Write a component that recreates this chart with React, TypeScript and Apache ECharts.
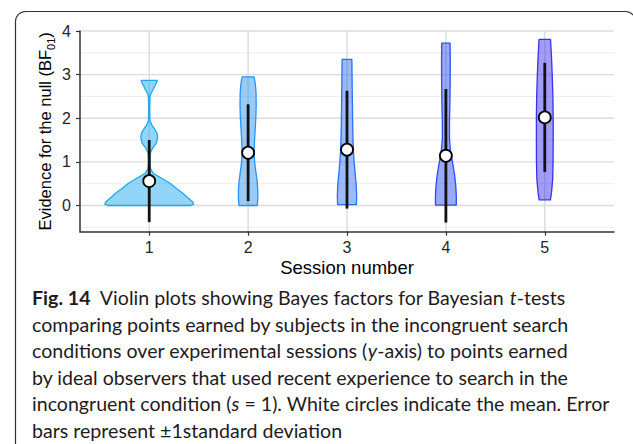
import React, { useEffect, useRef } from "react";
import * as echarts from "echarts";

// ---- data ----
const sessions = [1, 2, 3, 4, 5];
const sessionLabels = ["1", "2", "3", "4", "5"];
const means = [0.56, 1.21, 1.28, 1.14, 2.02];
const sds = [0.94, 1.11, 1.35, 1.53, 1.25];
const yTicks = [0, 1, 2, 3, 4];
const yTickLabels = ["0", "1", "2", "3", "4"];
const yMinorGrid = [-0.5, 0.5, 1.5, 2.5, 3.5];

// violin outlines: y values and half-widths (in x-axis units)
const violinY1 = [0.0, 0.03, 0.08, 0.18, 0.28, 0.4, 0.51, 0.62, 0.74, 0.85, 1.0, 1.2, 1.32, 1.42, 1.55, 1.65, 1.75, 1.85, 1.95, 2.2, 2.5, 2.58, 2.66, 2.75, 2.82, 2.87];
const violinW1 = [0.42, 0.45, 0.44, 0.39, 0.34, 0.27, 0.21, 0.13, 0.04, 0.012, 0.006, 0.01, 0.035, 0.07, 0.085, 0.08, 0.055, 0.025, 0.008, 0.005, 0.008, 0.02, 0.04, 0.058, 0.075, 0.08];
const violinY2 = [0.0, 0.15, 0.35, 0.55, 0.75, 0.95, 1.15, 1.4, 1.7, 2.0, 2.3, 2.6, 2.8, 2.95];
const violinW2 = [0.092, 0.098, 0.098, 0.092, 0.08, 0.068, 0.062, 0.063, 0.07, 0.078, 0.082, 0.08, 0.072, 0.06];
const violinY3 = [0.02, 0.2, 0.45, 0.7, 0.95, 1.2, 1.5, 1.9, 2.3, 2.8, 3.2, 3.35];
const violinW3 = [0.095, 0.098, 0.094, 0.084, 0.074, 0.066, 0.061, 0.057, 0.055, 0.052, 0.05, 0.049];
const violinY4 = [0.01, 0.2, 0.45, 0.7, 0.9, 1.1, 1.3, 1.55, 1.9, 2.3, 2.8, 3.3, 3.72];
const violinW4 = [0.105, 0.106, 0.1, 0.088, 0.074, 0.058, 0.044, 0.036, 0.036, 0.04, 0.043, 0.044, 0.042];
const violinY5 = [0.13, 0.3, 0.6, 1.0, 1.5, 2.0, 2.5, 3.0, 3.4, 3.81];
const violinW5 = [0.057, 0.068, 0.08, 0.084, 0.085, 0.085, 0.082, 0.075, 0.068, 0.058];

const violinStroke = ["#1ea8f0", "#2a92f2", "#2c6ff2", "#2c4cf1", "#3a32ee"];

const captionLines = [
  "{b|Fig. 14}{n|  Violin plots showing Bayes factors for Bayesian }{i|t}{n|-tests}",
  "{n|comparing points earned by subjects in the incongruent search}",
  "{n|conditions over experimental sessions (}{i|y}{n|-axis) to points earned}",
  "{n|by ideal observers that used recent experience to search in the}",
  "{n|incongruent condition (}{i|s}{n| = 1). White circles indicate the mean. Error}",
  "{n|bars represent ±1standard deviation}",
];

const AXIS_FONT = "Liberation Sans, Arial, sans-serif";
const CAP_FONT = "Lato, Open Sans, sans-serif";

export default function App() {
  const ref = useRef<HTMLDivElement>(null);

  useEffect(() => {
    if (!ref.current) return;
    const chart = echarts.init(ref.current, null, { renderer: "svg" });

    const violins = [
      { y: violinY1, w: violinW1 },
      { y: violinY2, w: violinW2 },
      { y: violinY3, w: violinW3 },
      { y: violinY4, w: violinW4 },
      { y: violinY5, w: violinW5 },
    ];

    const hLine = (color: string, width: number) => (params: any, api: any) => {
      const cs = params.coordSys;
      const y = api.coord([1, api.value(1)])[1];
      return {
        type: "line",
        shape: { x1: cs.x, y1: y, x2: cs.x + cs.width, y2: y },
        style: { stroke: color, lineWidth: width },
        silent: true,
      };
    };

    const capSize = 19.6;
    const capColor = "#1f1b1c";
    const capRich = {
      n: { fontFamily: CAP_FONT, fontSize: capSize, color: capColor },
      i: { fontFamily: CAP_FONT, fontSize: capSize, fontStyle: "italic", color: capColor },
      b: { fontFamily: CAP_FONT, fontSize: capSize, fontWeight: "bold", color: capColor },
    };
    const baseTop = 297.5;
    const lineStep = 26.6;
    const xMin = 0.3;
    const yMin = -0.6;

    const option: any = {
      animation: false,
      grid: { left: 80, right: 19, top: 31, bottom: 212.3, containLabel: false },
      xAxis: {
        type: "value",
        min: xMin,
        max: 5.7,
        axisLine: { show: true, onZero: false, lineStyle: { color: "#333333", width: 1.5 } },
        axisTick: { show: true, customValues: sessions, length: 4, lineStyle: { color: "#333333", width: 1.2 } },
        axisLabel: { show: false },
        splitLine: { show: false },
        name: "Session number",
        nameLocation: "middle",
        nameGap: 26,
        nameTextStyle: { fontSize: 18.5, color: "#000000", fontFamily: AXIS_FONT },
      },
      yAxis: {
        type: "value",
        min: yMin,
        max: 4,
        axisLine: { show: true, onZero: false, lineStyle: { color: "#333333", width: 1.5 } },
        axisTick: { show: true, customValues: yTicks, length: 4, lineStyle: { color: "#333333", width: 1.2 } },
        axisLabel: { show: false },
        splitLine: { show: false },
        name: "{a|Evidence for the null (BF}{s|01}{a|)}",
        nameLocation: "middle",
        nameGap: 27,
        nameTextStyle: {
          rich: {
            a: { fontSize: 16.5, color: "#000000", fontFamily: AXIS_FONT },
            s: { fontSize: 11, color: "#000000", fontFamily: AXIS_FONT, verticalAlign: "bottom", padding: [0, 0, -3, 0] },
          },
        },
      },
      series: [
        {
          type: "custom",
          name: "minor grid",
          silent: true,
          z: 0,
          data: yMinorGrid.map((v) => [1, v]),
          encode: { x: 0, y: 1 },
          renderItem: hLine("#ececec", 1),
        },
        {
          type: "custom",
          name: "major grid",
          silent: true,
          z: 0,
          data: yTicks.map((v) => [1, v]),
          encode: { x: 0, y: 1 },
          renderItem: hLine("#dcdcdc", 1.3),
        },
        {
          type: "custom",
          name: "vertical grid",
          silent: true,
          z: 0,
          data: sessions.map((s) => [s, 0]),
          encode: { x: 0, y: 1 },
          renderItem: (params: any, api: any) => {
            const cs = params.coordSys;
            const x = api.coord([api.value(0), 0])[0];
            return {
              type: "line",
              shape: { x1: x, y1: cs.y, x2: x, y2: cs.y + cs.height },
              style: { stroke: "#dcdcdc", lineWidth: 1.5 },
              silent: true,
            };
          },
        },
        {
          type: "custom",
          name: "violins",
          silent: true,
          z: 2,
          data: sessions.map((s) => [s, 0]),
          encode: { x: 0, y: 1 },
          renderItem: (params: any, api: any) => {
            const i = params.dataIndex;
            const s = api.value(0);
            const v = violins[i];
            const pts: number[][] = [];
            for (let k = 0; k < v.y.length; k++) pts.push(api.coord([s + v.w[k], v.y[k]]));
            for (let k = v.y.length - 1; k >= 0; k--) pts.push(api.coord([s - v.w[k], v.y[k]]));
            return {
              type: "polygon",
              shape: { points: pts },
              style: { fill: violinStroke[i], fillOpacity: 0.48, stroke: violinStroke[i], lineWidth: 1.3, lineJoin: "round" },
              silent: true,
            };
          },
        },
        {
          type: "custom",
          name: "sd",
          silent: true,
          z: 3,
          data: sessions.map((s, i) => [s, means[i] - sds[i], means[i] + sds[i]]),
          encode: { x: 0, y: [1, 2] },
          renderItem: (params: any, api: any) => {
            const a = api.coord([api.value(0), api.value(1)]);
            const b = api.coord([api.value(0), api.value(2)]);
            return {
              type: "line",
              shape: { x1: a[0], y1: a[1], x2: b[0], y2: b[1] },
              style: { stroke: "#111111", lineWidth: 2.8 },
              silent: true,
            };
          },
        },
        {
          type: "scatter",
          name: "mean",
          silent: true,
          z: 4,
          symbol: "circle",
          symbolSize: 12,
          data: sessions.map((s, i) => [s, means[i]]),
          itemStyle: { color: "#ffffff", borderColor: "#000000", borderWidth: 1.8, opacity: 1 },
        },
      ],
    };

    chart.setOption(option);

    // tick labels placed through the chart's own axis scales
    const tickTexts: any[] = [];
    sessions.forEach((s, i) => {
      const p = chart.convertToPixel({ gridIndex: 0 }, [s, yMin]) as number[];
      tickTexts.push({
        type: "text",
        x: p[0],
        y: p[1] + 8,
        silent: true,
        style: {
          text: sessionLabels[i],
          fontSize: 16,
          fontFamily: AXIS_FONT,
          fill: "#262626",
          align: "center",
          verticalAlign: "top",
        },
      });
    });
    yTicks.forEach((v, i) => {
      const p = chart.convertToPixel({ gridIndex: 0 }, [xMin, v]) as number[];
      tickTexts.push({
        type: "text",
        x: p[0] - 9,
        y: p[1],
        silent: true,
        style: {
          text: yTickLabels[i],
          fontSize: 16,
          fontFamily: AXIS_FONT,
          fill: "#262626",
          align: "right",
          verticalAlign: "middle",
        },
      });
    });

    chart.setOption({
      graphic: [
        {
          type: "rect",
          shape: { x: 15.5, y: 11.5, width: 620, height: 520, r: 10 },
          style: { fill: "none", stroke: "#333333", lineWidth: 1.2 },
          silent: true,
          z: -10,
        },
        ...tickTexts,
        ...captionLines.map((t, k) => ({
          type: "text",
          x: 32,
          y: baseTop + k * lineStep,
          style: {
            text: t,
            rich: capRich,
            fontFamily: CAP_FONT,
            fontSize: capSize,
            fill: capColor,
            verticalAlign: "middle",
            align: "left",
          },
          silent: true,
        })),
      ],
    });

    return () => chart.dispose();
  }, []);

  return (
    <div
      ref={ref}
      style={{ position: "fixed", left: 0, top: 0, width: 633, height: 444, background: "#ffffff" }}
    />
  );
}
